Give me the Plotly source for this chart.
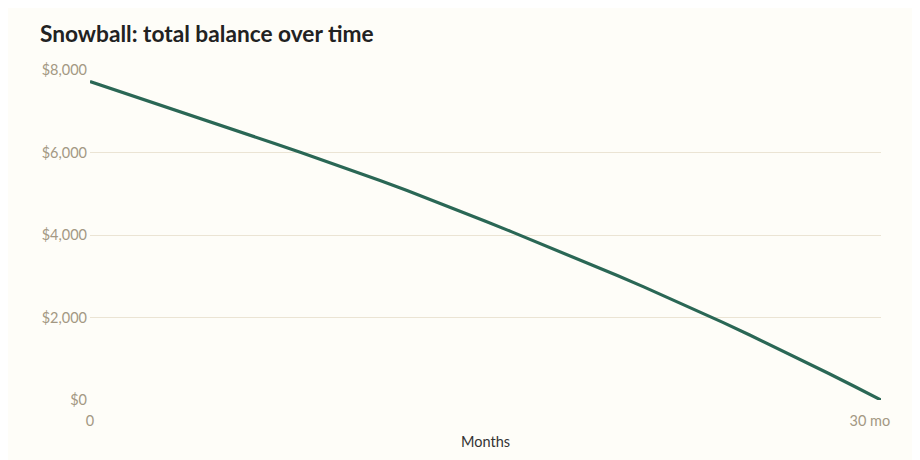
import plotly.graph_objects as go

# months since start and total remaining balance
months = list(range(31))
balance = [7720, 7508, 7295, 7081, 6866, 6651, 6435, 6218, 6000, 5780,
           5554, 5322, 5084, 4839, 4589, 4334, 4076, 3816, 3553, 3287,
           3017, 2743, 2462, 2175, 1882, 1583, 1277, 966, 649, 327, 0]

y_ticks = [0, 2000, 4000, 6000, 8000]
y_labels = ["$0", "$2,000", "$4,000", "$6,000", "$8,000"]
x_ticks = [0, 30]
x_labels = ["0", "30 mo\u00a0\u00a0\u00a0\u00a0\u00a0\u00a0"]

# the page has an 8px body margin, so the figure is a bit smaller
W, H = 912, 452

fig = go.Figure(go.Scatter(
    x=months,
    y=balance,
    mode="lines",
    line=dict(color="#2a6755", width=3.2),
    hoverinfo="skip",
))

fig.update_layout(
    width=W,
    height=H,
    margin=dict(l=82, r=39, t=62, b=60),
    paper_bgcolor="#fefdf8",
    plot_bgcolor="#fefdf8",
    font=dict(family="Lato", size=14.5, color="#a39883"),
    showlegend=False,
    title=dict(
        text="Snowball: total balance over time",
        x=32 / W, xref="container", xanchor="left",
        y=1 - 26 / H, yref="container", yanchor="middle",
        font=dict(family="Lato", size=22.7, color="#222222", weight="bold"),
    ),
)

fig.update_xaxes(
    range=[0, 30],
    tickvals=x_ticks,
    ticktext=x_labels,
    showgrid=False,
    zeroline=False,
    showline=False,
    ticks="",
    automargin=False,
    ticklabelstandoff=10,
    title=dict(text="Months", font=dict(size=14.5, color="#333333"), standoff=9),
)

fig.update_yaxes(
    range=[0, 8000],
    tickvals=y_ticks,
    ticktext=y_labels,
    showgrid=True,
    gridcolor="#ebe4d4",
    gridwidth=1,
    zeroline=False,
    showline=False,
    ticks="",
    automargin=False,
    ticklabelstandoff=2,
)

fig.write_html("out.html")
